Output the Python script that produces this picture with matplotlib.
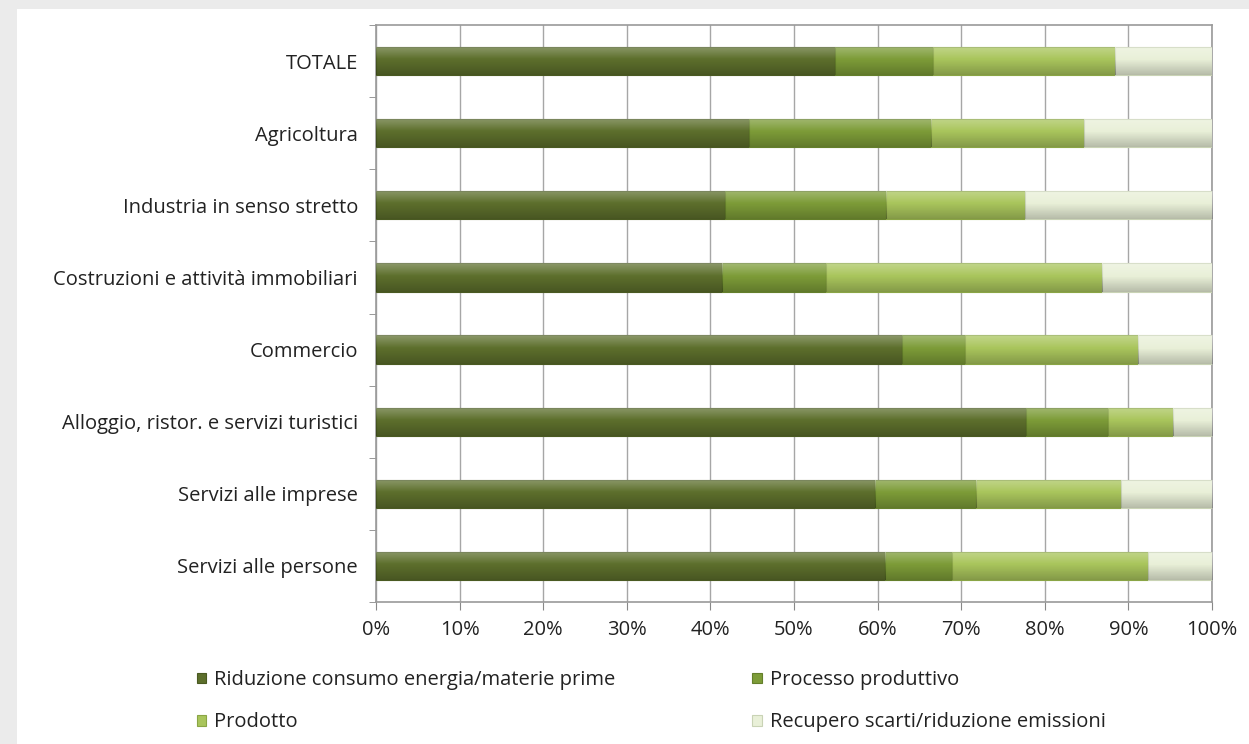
import matplotlib
matplotlib.use("Agg")
import matplotlib.pyplot as plt
import numpy as np
from matplotlib.patches import Rectangle

categories = ["TOTALE", "Agricoltura", "Industria in senso stretto",
              "Costruzioni e attività immobiliari", "Commercio",
              "Alloggio, ristor. e servizi turistici", "Servizi alle imprese",
              "Servizi alle persone"]
riduzione = [54.9, 44.6, 41.7, 41.4, 62.9, 77.7, 59.7, 60.9]
processo = [11.7, 21.8, 19.3, 12.4, 7.5, 9.8, 12.1, 8.0]
prodotto = [21.8, 18.3, 16.6, 33.1, 20.7, 7.8, 17.3, 23.4]
recupero = [11.6, 15.3, 22.4, 13.1, 8.9, 4.7, 10.9, 7.7]
series_names = ["Riduzione consumo energia/materie prime", "Processo produttivo",
                "Prodotto", "Recupero scarti/riduzione emissioni"]
xticks = [0, 10, 20, 30, 40, 50, 60, 70, 80, 90, 100]
xtick_labels = [f"{v}%" for v in xticks]

colors = ["#5d6f2c", "#7d9c38", "#a9c55c", "#e9f0d8"]
edge = ["#4a5a22", "#647f2b", "#8aa545", "#c9d3b5"]

plt.rcParams['font.family'] = ['Open Sans', 'DejaVu Sans']
FS = 14.5

fig = plt.figure(figsize=(12.49, 7.44), dpi=100)
fig.patch.set_facecolor("#ebebeb")
fig.patches.append(Rectangle((17/1249, 0), 1, 1 - 9/744, transform=fig.transFigure,
                             facecolor="white", edgecolor="none", zorder=-10))

ax = fig.add_axes([376/1249, 1 - 602/744, (1212 - 376)/1249, (602 - 25)/744])
ax.set_facecolor("white")

# vertical shading gradient for the bevelled look
n = 64
t = np.linspace(0, 1, n)
grad = np.zeros((n, 1, 4))
top = t < 0.45
grad[top, 0, :3] = 1.0
grad[top, 0, 3] = 0.30 * (1 - t[top] / 0.45)
grad[~top, 0, :3] = 0.0
grad[~top, 0, 3] = 0.22 * ((t[~top] - 0.45) / 0.55)

y = np.arange(len(categories))
left = np.zeros(len(categories))
data = [riduzione, processo, prodotto, recupero]
for vals, c, e, name in zip(data, colors, edge, series_names):
    vals = np.array(vals)
    bars = ax.barh(y, vals, left=left, height=0.39, color=c, edgecolor=e, linewidth=0.8,
                   label=name, zorder=3)
    for p in bars.patches:
        x0, y0 = p.get_x(), p.get_y()
        w, h = p.get_width(), p.get_height()
        im = ax.imshow(grad, extent=(x0, x0 + w, y0 + h, y0), aspect="auto",
                       zorder=4, interpolation="bilinear")
        im.set_clip_path(p)
    left += vals

ax.set_xlim(0, 100)
ax.set_ylim(len(categories) - 0.5, -0.5)
ax.set_aspect("auto")
ax.set_xticks(xticks)
ax.set_xticklabels(xtick_labels, fontsize=FS, color="#222222")
ax.set_yticks(y)
ax.set_yticklabels(categories, fontsize=FS, color="#222222")
ax.tick_params(axis="y", length=0, pad=13)
ax.set_yticks(np.arange(-0.5, len(categories), 1), minor=True)
ax.tick_params(axis="y", which="minor", length=5, color="#888888", direction="out")
ax.tick_params(axis="x", length=6, color="#888888", direction="out", pad=7)
ax.grid(axis="x", color="#a6a6a6", linewidth=1.0, zorder=0)
for s in ax.spines.values():
    s.set_color("#9a9a9a")
    s.set_linewidth(1.2)

handles, labels = ax.get_legend_handles_labels()
order = [0, 2, 1, 3]
leg = fig.legend([handles[i] for i in order], [labels[i] for i in order],
                 loc="upper left", bbox_to_anchor=(179/1249, 1 - 652/744), ncol=2,
                 frameon=False, fontsize=FS, handlelength=0.45, handleheight=0.45,
                 handletextpad=0.4, columnspacing=6.8, labelspacing=1.1)
for t_ in leg.get_texts():
    t_.set_color("#222222")

fig.savefig("out.png", dpi=100, facecolor=fig.get_facecolor())
